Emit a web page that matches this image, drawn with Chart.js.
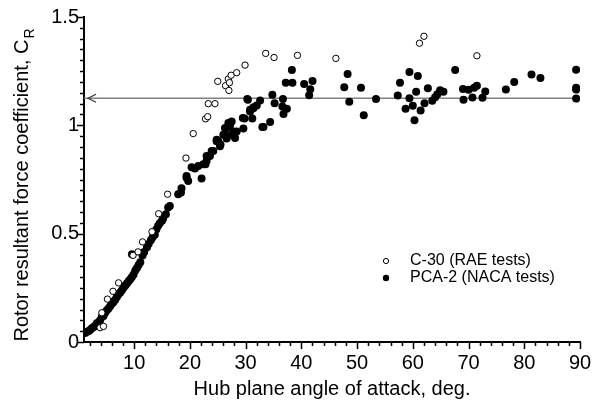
<!DOCTYPE html>
<html>
<head>
<meta charset="utf-8">
<script src="https://cdn.jsdelivr.net/npm/chart.js@4"></script>
<style>
  html, body { margin: 0; padding: 0; background: #ffffff; }
  canvas { display: block; }
</style>
</head>
<body>
<canvas id="crChart" width="602" height="407"></canvas>
<script>
// C-30 (RAE tests) - open circles [angle, C_R]
const c30Points = [
  [3.9, 0.066], [4.5, 0.072], [4.2, 0.135], [5.2, 0.198], [6.2, 0.234], [7.2, 0.273],
  [9.8, 0.40], [10.7, 0.416], [11.5, 0.462], [13.2, 0.509], [14.4, 0.592], [16.0, 0.682],
  [19.3, 0.849], [20.6, 0.962], [22.8, 1.03], [23.2, 1.04], [23.3, 1.10], [24.5, 1.10],
  [25.0, 1.203], [26.4, 1.183], [26.9, 1.214], [27.1, 1.197], [27.0, 1.161], [27.4, 1.231],
  [28.4, 1.243], [29.9, 1.278], [33.6, 1.332], [35.1, 1.313], [39.3, 1.323], [46.2, 1.309],
  [61.2, 1.379], [62.0, 1.411], [71.5, 1.321]
];

// PCA-2 (NACA tests) - filled circles [angle, C_R]
const pcaPoints = [
  [1.2, 0.042], [1.5, 0.047], [1.8, 0.05], [2.1, 0.055], [2.4, 0.063], [2.7, 0.068],
  [3.0, 0.075], [3.3, 0.086], [3.6, 0.09], [3.9, 0.10], [4.2, 0.116], [4.5, 0.12],
  [4.8, 0.135], [5.1, 0.147], [5.4, 0.155], [5.7, 0.165], [6.0, 0.177], [6.3, 0.185],
  [6.6, 0.195], [6.9, 0.208], [7.2, 0.22], [7.5, 0.228], [7.8, 0.239], [8.1, 0.25],
  [8.4, 0.261], [8.7, 0.27], [9.0, 0.28], [9.3, 0.29], [9.6, 0.30], [9.9, 0.312],
  [9.6, 0.405], [10.2, 0.33], [10.5, 0.342], [10.8, 0.355], [11.1, 0.368], [11.5, 0.399],
  [11.8, 0.415], [12.3, 0.437], [12.6, 0.452], [13.0, 0.47], [13.3, 0.483], [13.7, 0.495],
  [14.0, 0.52], [14.3, 0.537], [14.6, 0.548], [15.0, 0.56], [15.2, 0.57], [15.7, 0.59],
  [16.1, 0.621], [16.4, 0.628], [17.9, 0.682], [18.4, 0.69], [18.5, 0.71], [19.4, 0.758],
  [19.4, 0.766], [19.7, 0.743], [20.3, 0.807], [20.9, 0.801], [21.5, 0.812], [22.1, 0.755],
  [22.4, 0.82], [22.8, 0.82], [23.0, 0.835], [23.0, 0.858], [23.6, 0.858], [23.9, 0.881],
  [24.2, 0.881], [24.8, 0.927], [24.8, 0.934], [25.1, 0.927], [25.4, 0.904], [25.5, 0.911],
  [26.0, 0.957], [26.3, 0.957], [26.3, 0.988], [26.5, 0.985], [26.6, 0.939], [26.9, 1.011],
  [27.2, 0.999], [27.5, 0.957], [27.5, 1.018], [27.8, 0.972], [28.1, 0.942], [28.4, 0.972],
  [29.5, 1.034], [29.6, 0.985], [29.8, 1.031], [30.3, 1.121], [30.4, 1.118], [30.8, 1.064],
  [30.8, 1.072], [31.2, 1.031], [31.4, 1.079], [31.4, 1.083], [32.0, 1.092], [32.6, 1.115],
  [33.0, 0.992], [33.2, 0.992], [34.4, 1.015], [34.8, 1.141], [35.2, 1.102], [36.7, 1.121],
  [36.6, 1.087], [37.4, 1.077], [36.8, 1.052], [37.2, 1.196], [38.3, 1.255], [38.4, 1.196],
  [40.5, 1.191], [42.0, 1.205], [41.6, 1.167], [41.4, 1.139], [47.7, 1.176], [48.3, 1.237],
  [48.6, 1.109], [50.7, 1.174], [51.2, 1.047], [53.4, 1.121], [57.3, 1.138], [57.7, 1.196],
  [58.7, 1.077], [59.4, 1.246], [59.4, 1.125], [60.0, 1.09], [60.3, 1.024], [60.6, 1.155],
  [60.9, 1.228], [61.4, 1.069], [62.1, 1.102], [62.7, 1.171], [63.5, 1.113], [64.0, 1.13],
  [64.4, 1.144], [64.9, 1.162], [65.5, 1.155], [67.6, 1.255], [69.0, 1.168], [69.1, 1.118],
  [70.0, 1.164], [70.7, 1.128], [71.0, 1.174], [71.5, 1.183], [72.5, 1.127], [73.0, 1.156],
  [76.7, 1.165], [78.2, 1.2], [81.3, 1.235], [82.9, 1.219], [89.3, 1.257], [89.3, 1.174],
  [89.3, 1.165], [89.3, 1.124]
];

// reference level with arrow towards the axis
const refLineX = [1, 90];
const refLineY = [1.125, 1.125];

const xTickValues = [10, 20, 30, 40, 50, 60, 70, 80, 90];
const yTickValues = [0, 0.5, 1, 1.5];
const xMinorStep = 2;
const yMinorStep = 0.05;

const legendLabels = ["C-30 (RAE tests)", "PCA-2 (NACA tests)"];
const xTitle = "Hub plane angle of attack, deg.";
const yTitle = "Rotor resultant force coefficient, C";
const yTitleSub = "R";

const FONT = "'Liberation Sans', Arial, sans-serif";

const toXY = (arr) => arr.map(p => ({ x: p[0], y: p[1] }));

// tick marks (major + minor), arrow head, legend and y title
const extrasPlugin = {
  id: "extras",
  afterDraw(chart) {
    const ctx = chart.ctx;
    const xs = chart.scales.x;
    const ys = chart.scales.y;
    const area = chart.chartArea;

    ctx.save();
    ctx.strokeStyle = "#000";
    ctx.lineWidth = 1.5;
    // x ticks
    for (let v = xMinorStep; v <= xs.max + 0.001; v += xMinorStep) {
      const px = Math.round(xs.getPixelForValue(v)) + 0.5;
      const len = (Math.abs(v % 10) < 0.001) ? 7 : 4;
      ctx.beginPath();
      ctx.moveTo(px, area.bottom);
      ctx.lineTo(px, area.bottom + len);
      ctx.stroke();
    }
    // y ticks
    for (let i = 0; i <= Math.round(ys.max / yMinorStep); i++) {
      const v = i * yMinorStep;
      const py = Math.round(ys.getPixelForValue(v)) + 0.5;
      const len = (i % 10 === 0) ? 7 : 4;
      ctx.beginPath();
      ctx.moveTo(area.left, py);
      ctx.lineTo(area.left - len, py);
      ctx.stroke();
    }

    // arrow head on the reference line
    const ax = xs.getPixelForValue(refLineX[0]) + 4;
    const ay = ys.getPixelForValue(refLineY[0]);
    ctx.strokeStyle = "#333";
    ctx.lineWidth = 1.2;
    ctx.beginPath();
    ctx.moveTo(ax + 8, ay - 4);
    ctx.lineTo(ax, ay);
    ctx.lineTo(ax + 8, ay + 4);
    ctx.stroke();

    // legend
    const lx = area.left + 302;
    const ly = area.top + 244;
    ctx.font = "16px " + FONT;
    ctx.textBaseline = "middle";
    ctx.lineWidth = 1;
    ctx.strokeStyle = "#000";
    ctx.beginPath();
    ctx.arc(lx, ly, 2.6, 0, Math.PI * 2);
    ctx.fillStyle = "#fff";
    ctx.fill();
    ctx.stroke();
    ctx.fillStyle = "#000";
    ctx.beginPath();
    ctx.arc(lx, ly + 17, 3.2, 0, Math.PI * 2);
    ctx.fill();
    ctx.fillText(legendLabels[0], lx + 24, ly);
    ctx.fillText(legendLabels[1], lx + 24, ly + 17);

    // y axis title with subscript
    ctx.translate(22, (area.top + area.bottom) / 2 + 6);
    ctx.rotate(-Math.PI / 2);
    ctx.font = "20px " + FONT;
    const w1 = ctx.measureText(yTitle).width;
    ctx.font = "14px " + FONT;
    const w2 = ctx.measureText(yTitleSub).width;
    const start = -(w1 + w2) / 2;
    ctx.textAlign = "left";
    ctx.font = "20px " + FONT;
    ctx.fillText(yTitle, start, 0);
    ctx.font = "14px " + FONT;
    ctx.fillText(yTitleSub, start + w1 + 1, 8);
    ctx.restore();
  }
};

const chart = new Chart(document.getElementById("crChart"), {
  type: "scatter",
  data: {
    datasets: [
      {
        label: legendLabels[0],
        data: toXY(c30Points),
        pointStyle: "circle",
        pointRadius: 3.2,
        pointBorderWidth: 1,
        pointBackgroundColor: "#fff",
        pointBorderColor: "#000",
        order: 1
      },
      {
        label: legendLabels[1],
        data: toXY(pcaPoints),
        pointStyle: "circle",
        pointRadius: 4,
        pointBorderWidth: 0,
        pointBackgroundColor: "#000",
        pointBorderColor: "#000",
        order: 2
      },
      {
        type: "line",
        label: "ref",
        data: refLineX.map((x, i) => ({ x: x, y: refLineY[i] })),
        borderColor: "#808080",
        borderWidth: 1.6,
        pointRadius: 0,
        fill: false,
        order: 10
      }
    ]
  },
  options: {
    responsive: false,
    animation: false,
    events: [],
    layout: { padding: { left: 0, right: 22, top: 15, bottom: 0 } },
    plugins: {
      legend: { display: false },
      tooltip: { enabled: false }
    },
    scales: {
      x: {
        type: "linear",
        min: 1,
        max: 90,
        afterBuildTicks: (scale) => { scale.ticks = xTickValues.map(v => ({ value: v })); },
        afterFit: (scale) => { scale.height = 65; },
        grid: { display: false, drawTicks: false },
        border: { display: true, color: "#000", width: 2 },
        ticks: { color: "#000", font: { family: FONT, size: 20 }, padding: 9, maxRotation: 0 },
        title: {
          display: true,
          text: xTitle,
          color: "#000",
          font: { family: FONT, size: 20 },
          padding: { top: 0, bottom: 6 }
        }
      },
      y: {
        type: "linear",
        min: 0,
        max: 1.5,
        afterBuildTicks: (scale) => { scale.ticks = yTickValues.map(v => ({ value: v })); },
        afterFit: (scale) => { scale.width = 84; },
        grid: { display: false, drawTicks: false },
        border: { display: true, color: "#000", width: 2 },
        ticks: {
          color: "#000",
          font: { family: FONT, size: 20 },
          padding: 5,
          callback: (value) => String(value)
        }
      }
    }
  },
  plugins: [extrasPlugin]
});
</script>
</body>
</html>
